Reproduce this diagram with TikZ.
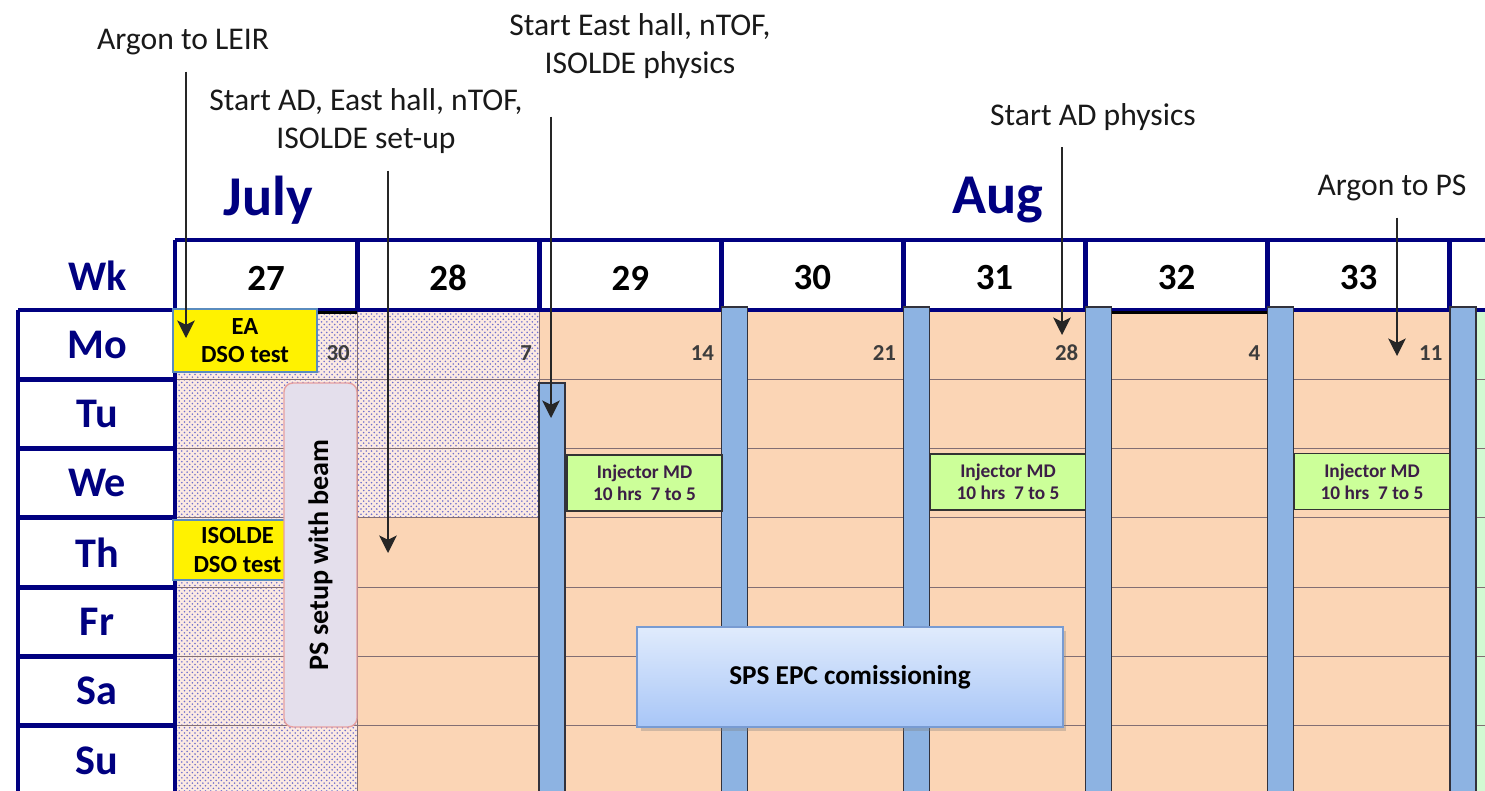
\documentclass[tikz,border=0pt]{standalone}
\usepackage{fontspec}
\setmainfont{Carlito}
\usetikzlibrary{arrows.meta,patterns,shadows}

\definecolor{navy}{RGB}{0,0,128}
\definecolor{peach}{RGB}{251,213,181}
\definecolor{pinkbg}{RGB}{252,234,226}
\definecolor{dotblue}{RGB}{110,110,205}
\definecolor{barblue}{RGB}{141,179,226}
\definecolor{bardark}{RGB}{50,50,60}
\definecolor{mdgreen}{RGB}{204,255,153}
\definecolor{mdtext}{RGB}{60,30,70}
\definecolor{nextgreen}{RGB}{210,250,210}
\definecolor{gridbrown}{RGB}{130,110,115}
\definecolor{psfill}{RGB}{228,223,236}
\definecolor{psedge}{RGB}{230,160,160}
\definecolor{dsoedge}{RGB}{90,140,190}
\definecolor{epctop}{RGB}{224,235,252}
\definecolor{epcbot}{RGB}{168,198,247}
\definecolor{epcedge}{RGB}{120,155,210}
\definecolor{datenum}{RGB}{60,60,60}
\definecolor{notetext}{RGB}{25,25,25}

\newcommand{\ColW}{182.1}
\newcommand{\RowH}{69.3}

\begin{document}
\begin{tikzpicture}[x=0.02cm,y=-0.02cm,
  navyline/.style={draw=navy,line width=2.8pt},
  gridline/.style={draw=gridbrown,line width=0.6pt},
  weekbar/.style={fill=barblue,draw=bardark,line width=0.9pt},
  daylab/.style={font=\fontsize{24}{28}\selectfont\bfseries,text=navy},
  wklab/.style={font=\fontsize{21}{25}\selectfont\bfseries},
  monthlab/.style={font=\fontsize{32}{38}\selectfont\bfseries,text=navy},
  datelab/.style={font=\fontsize{13}{15}\selectfont\bfseries,text=datenum,anchor=east,inner sep=0pt},
  note/.style={font=\fontsize{18}{22}\selectfont,align=center,text=notetext},
  marker/.style={draw=black!85,line width=0.8pt,shorten <=6pt,
    -{Stealth[length=10pt,width=10pt,inset=2.5pt]}},
  dso/.style={fill=yellow,draw=dsoedge,line width=0.8pt,align=center,
    font=\fontsize{14}{16}\selectfont\bfseries,inner sep=0pt},
  injmd/.style={fill=mdgreen,draw=black!80,line width=0.8pt,align=center,
    font=\fontsize{11}{12.5}\selectfont\bfseries,text=mdtext,
    minimum width=3.1cm,minimum height=1.12cm,inner sep=0pt},
  setupbox/.style={fill=psfill,draw=psedge,line width=0.8pt,rounded corners=5pt,
    font=\fontsize{16}{18}\selectfont\bfseries,rotate=90,
    minimum width=6.88cm,minimum height=1.46cm,inner sep=0pt},
  epcbox/.style={top color=epctop,bottom color=epcbot,draw=epcedge,line width=0.8pt,
    drop shadow={opacity=0.35,shadow xshift=2pt,shadow yshift=-2pt},
    font=\fontsize{15.5}{18}\selectfont\bfseries,
    minimum width=8.52cm,minimum height=2cm,inner sep=0pt}]
  \useasboundingbox (0,0) rectangle (1485,791);
  \clip (0,0) rectangle (1485,791);

  % cell backgrounds
  \fill[pinkbg] (175,310) rectangle (357.1,800);
  \fill[pinkbg] (357.1,310) rectangle (539.2,517.9);
  \fill[pattern=crosshatch dots,pattern color=dotblue] (175,310) rectangle (357.1,800);
  \fill[pattern=crosshatch dots,pattern color=dotblue] (357.1,310) rectangle (539.2,517.9);
  \fill[peach] (357.1,517.9) rectangle (539.2,800);
  \fill[peach] (539.2,310) rectangle (1476,800);
  \fill[nextgreen] (1476,310) rectangle (1485,800);
  \fill[white] (18,310) rectangle (175,800);

  % thin grid
  \foreach \i in {1,...,6}
    \draw[gridline] (175,{310+\RowH*\i}) -- (1485,{310+\RowH*\i});
  \foreach \i in {1,...,7}
    \draw[gridline] ({175+\ColW*\i},310) -- ({175+\ColW*\i},800);

  % header and day column
  \draw[navyline] (175,240) -- (1485,240);
  \foreach \i in {0,...,7}
    \draw[navyline] ({175+\ColW*\i},240) -- ({175+\ColW*\i},310);
  \draw[navyline] (18,310) -- (1485,310);
  \draw[navyline] (18,310) -- (18,800);
  \draw[navyline] (175,310) -- (175,800);
  \foreach \i in {1,...,6}
    \draw[navyline] (18,{310+\RowH*\i}) -- (175,{310+\RowH*\i});
  \draw[line width=1.8pt] (317,312.5) -- (357.1,312.5);
  \draw[line width=1.8pt] (1111.5,312.5) -- (1267.6,312.5);

  % week start bars
  \draw[weekbar] (539.2,383) rectangle ++(26,420);
  \foreach \i in {3,...,7}
    \draw[weekbar] ({175+\ColW*\i},307) rectangle ++(26,500);

  % labels of the grid
  \node[daylab] (wk) at (98,276) {Wk};
  \foreach \d [count=\i] in {Mo,Tu,We,Th,Fr,Sa,Su}
    \node[daylab] (day\d) at (97,{310+\RowH*(\i-0.5)}) {\d};
  \foreach \w [count=\i] in {27,...,33}
    \node[wklab] (week\w) at ({175+\ColW*(\i-0.5)},278) {\w};
  \foreach \n [count=\i] in {30,7,14,21,28,4,11}
    \node[datelab] (date\n) at ({175+\ColW*\i-7},353) {\n};
  \node[monthlab] (july) at (268,200) {July};
  \node[monthlab] (aug) at (998,200) {Aug};

  % events
  \node[dso,minimum width=2.88cm,minimum height=1.26cm] (eadso) at (245,340.5) {EA\\DSO test};
  \node[dso,minimum width=2.58cm,minimum height=1.2cm] (isodso) at (237.5,550) {ISOLDE\\DSO test};
  \node[setupbox] (pssetup) at (320.5,555) {PS setup with beam};
  \node[injmd] (md29) at (644.5,483) {Injector MD\\10 hrs\ \ 7 to 5};
  \node[injmd] (md31) at (1008,482) {Injector MD\\10 hrs\ \ 7 to 5};
  \node[injmd] (md33) at (1372,481.5) {Injector MD\\10 hrs\ \ 7 to 5};
  \node[epcbox] (epc) at (850,677) {SPS EPC comissioning};

  % milestones
  \node[note] (leir) at (183,42) {Argon to LEIR};
  \node[note] (adsetup) at (366,121) {Start AD, East hall, nTOF,\\ISOLDE set-up};
  \node[note] (ehphys) at (640,46) {Start East hall, nTOF,\\ISOLDE physics};
  \node[note] (adphys) at (1093,117) {Start AD physics};
  \node[note] (argps) at (1392,188) {Argon to PS};
  \coordinate (leirtip) at (186,338);
  \coordinate (adsetuptip) at (388,553);
  \coordinate (ehphystip) at (551,418);
  \coordinate (adphystip) at (1062,335);
  \coordinate (argpstip) at (1397,356);
  \draw[marker] (leir.south -| leirtip) -- (leirtip);
  \draw[marker] (adsetup.south -| adsetuptip) -- (adsetuptip);
  \draw[marker,shorten <=18pt] (ehphys.south -| ehphystip) -- (ehphystip);
  \draw[marker] (adphys.south -| adphystip) -- (adphystip);
  \draw[marker] (argps.south -| argpstip) -- (argpstip);
\end{tikzpicture}
\end{document}
